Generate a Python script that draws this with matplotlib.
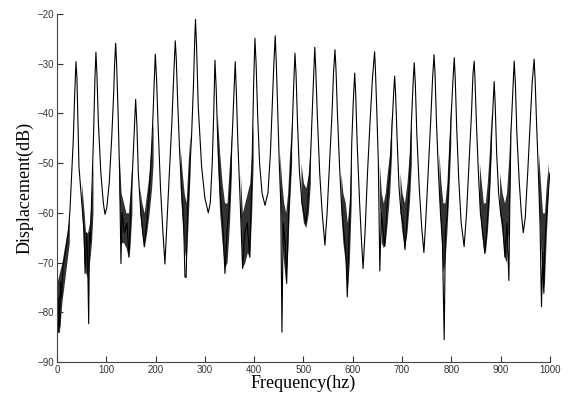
import numpy as np
import matplotlib
matplotlib.use("Agg")
import matplotlib.pyplot as plt

# %%
# main response curve (Hz, dB)
freq = [0, 1, 2.7, 4, 5.5, 7, 9, 12, 17, 23, 26.4, 30, 33, 36, 38.5, 40.5, 44.6, 48, 52, 55,
        57, 60, 62, 64.3, 66, 68, 70, 74, 77, 79, 81, 84, 89, 94, 97.4, 101, 106, 111, 115, 117,
        119, 121, 124, 127, 129.8, 132, 137, 142, 146, 150, 153, 157, 159.6, 162, 165, 170, 174, 177, 182, 187,
        192, 195, 197.5, 199.5, 202, 205, 210, 215, 219, 223, 228, 233, 237, 240, 242, 245, 249, 253, 257, 259.6,
        262, 265, 268, 273, 277, 279.5, 281, 283, 286.6, 293.4, 300, 307, 311, 315, 318, 320.5, 323, 326, 331, 336,
        340.8, 345, 350, 355, 359, 361.6, 364, 367, 371, 376.6, 381, 386, 391, 395, 399, 401.6, 404, 407, 411, 416,
        422, 428, 433, 437, 440, 442.8, 445, 448, 451, 454, 456.4, 459, 463, 466, 470, 474, 477, 480, 482.8, 485,
        488, 492, 497, 501, 505, 509, 514, 517, 521, 523, 525, 528, 533, 538, 543.6, 548, 553, 558, 561, 564,
        566, 569, 573, 577, 582, 586, 589, 592, 596, 598, 601, 604, 606, 609, 614, 618, 621, 625, 630, 635,
        640, 644.4, 646, 649, 652, 655, 658, 662, 665, 670, 675, 680, 683, 685, 687, 690, 694, 698, 702, 706,
        710, 715, 719, 722.5, 724.8, 727, 730, 735, 740, 744.4, 748, 753, 758, 762, 765, 767, 770, 774, 778, 782,
        785.6, 788, 792, 796, 800, 803, 806, 808, 811, 815, 820, 826, 831, 836, 841, 844, 846.5, 848, 851, 855,
        859, 864, 868, 873, 878, 882, 885, 887, 889, 892, 896, 900, 904, 908.7, 913, 916.8, 919, 921, 925, 927.6,
        930, 933, 938, 942, 946, 950, 955, 960, 964, 968, 970, 973, 976, 980, 983, 985.5, 987.8, 990, 995, 1000]
disp = [-76, -80, -84, -77, -83, -74, -77, -71, -68, -64, -59.4, -52, -45.4, -36, -29.6, -33, -50.7, -55, -60, -64,
        -72.2, -64, -68, -82.3, -64, -66, -58, -45, -33, -27.7, -32, -42, -52, -58, -60.3, -59, -54, -45, -36, -30,
        -25.9, -30, -40, -52, -70.2, -60, -64, -62, -68.9, -58, -52, -43, -37.2, -42, -52, -60, -64, -66.8, -62, -56,
        -47, -40, -33, -28.1, -33, -42, -55, -64, -70.3, -62, -52, -42, -32, -25.4, -29, -38, -48, -56, -62, -72.9,
        -73, -60, -54, -44.7, -34, -25, -21.1, -26, -38.6, -50.7, -57, -60, -58, -50, -40, -29.3, -35, -45, -56, -62,
        -72.2, -64, -58, -46, -36, -29.6, -36, -46, -56, -71.2, -64, -62, -68.9, -54, -34, -24.9, -30, -40, -50, -56,
        -58.5, -56, -48, -38, -30, -24.4, -30, -40, -50, -58, -84, -62, -66, -74.2, -60, -52, -44, -35, -27.9, -32,
        -42, -52, -58, -60, -62.1, -58, -50, -42, -32, -26.7, -31, -40, -52, -60, -66.5, -60, -50, -40, -32, -27.2,
        -31, -40, -50, -58, -64, -68, -76.9, -66, -56, -46, -38, -31.9, -36, -46, -58, -66, -71.2, -64, -52, -42,
        -33, -27.6, -31, -40, -50, -71.7, -60, -64, -66.8, -58, -52, -42, -36, -32.5, -36, -45, -55, -60, -62, -67.4,
        -62, -54, -42, -34, -29.8, -34, -44, -55, -63, -68, -62, -52, -42, -33, -28.2, -32, -42, -52, -60, -66,
        -85.5, -64, -60, -50, -40, -34, -28.8, -33, -43, -53, -62, -66.8, -60, -50, -40, -32, -29.5, -33, -42, -52,
        -60, -64, -68.2, -62, -54, -44, -38, -33.6, -38, -48, -56, -60, -62, -68.9, -62, -73.6, -56, -44, -35, -29.5,
        -34, -44, -54, -60, -64, -61, -52, -42, -34, -29.1, -33, -42, -50, -62, -78.9, -68, -76.2, -66, -58, -52]

# dense noisy parts of the troughs: envelope (low / high)
noise_freq = [[0, 5, 10, 15, 20, 25], [50, 55, 58, 62, 66, 70, 73], [126, 130, 135, 140, 145, 148, 152],
              [168, 172, 177, 182, 187, 192, 195], [250, 254, 258, 262, 266, 270],
              [325, 330, 335, 340, 345, 350, 354], [372, 376, 381, 386, 391, 395, 398],
              [452, 456, 460, 464, 468, 472, 476], [495, 500, 505, 510, 514],
              [576, 580, 585, 589, 593, 597], [654, 658, 662, 666, 670, 675, 679],
              [696, 700, 705, 710, 715, 719], [775, 779, 783, 787, 791, 795, 799],
              [857, 861, 865, 869, 873, 877, 881], [898, 903, 908, 912, 916, 920],
              [977, 981, 985, 989, 993, 997]]
noise_lo = [[-84, -84, -78, -74, -70, -66], [-58, -70, -72, -73, -70, -66, -60], [-56, -66, -66, -67, -69, -67, -60],
            [-60, -64, -67, -64, -60, -55, -50], [-55, -62, -67, -70, -62, -52],
            [-48, -60, -66, -71, -70, -62, -52], [-60, -71, -70, -68, -69, -60, -50],
            [-56, -66, -70, -74, -68, -58, -50], [-58, -62, -63, -60, -54],
            [-60, -66, -70, -76, -70, -58], [-58, -66, -67, -66, -62, -56, -48],
            [-60, -64, -67, -64, -58, -50], [-56, -64, -72, -70, -64, -56, -46],
            [-58, -64, -67, -68, -64, -58, -48], [-60, -64, -69, -70, -64, -52],
            [-56, -66, -76, -74, -64, -56]]
noise_hi = [[-74, -72, -70, -67, -64, -61], [-54, -60, -64, -64, -62, -56, -50], [-48, -56, -58, -60, -60, -56, -50],
            [-55, -58, -60, -56, -52, -45, -42], [-47, -52, -56, -58, -50, -44],
            [-40, -48, -54, -58, -58, -50, -44], [-52, -60, -58, -56, -54, -48, -42],
            [-48, -54, -58, -60, -56, -48, -42], [-50, -54, -55, -52, -46],
            [-52, -56, -58, -62, -58, -48], [-50, -56, -58, -56, -52, -48, -40],
            [-52, -56, -58, -54, -48, -40], [-48, -54, -58, -58, -54, -46, -38],
            [-50, -54, -58, -58, -54, -48, -40], [-52, -56, -58, -56, -50, -42],
            [-48, -54, -60, -60, -54, -50]]

x_ticks = [0, 100, 200, 300, 400, 500, 600, 700, 800, 900, 1000]
y_ticks = [-90, -80, -70, -60, -50, -40, -30, -20]

# %%
fig = plt.figure(figsize=(5.71, 3.98), dpi=100)
ax = fig.add_axes([0.0998, 0.0905, 0.8632, 0.8745])

ax.plot(freq, disp, color='black', linewidth=0.8)
for nf, lo, hi in zip(noise_freq, noise_lo, noise_hi):
    ax.fill_between(nf, lo, hi, color='black', linewidth=0, alpha=0.8)

ax.set_xlim(0, 1000)
ax.set_ylim(-90, -20)
ax.set_xticks(x_ticks)
ax.set_yticks(y_ticks)
ax.tick_params(direction='in', length=4, width=0.8, labelsize=7, colors='#333333', pad=2)
for lab in ax.get_xticklabels() + ax.get_yticklabels():
    lab.set_family('Liberation Sans')
ax.spines['top'].set_visible(False)
ax.spines['right'].set_visible(False)
ax.spines['left'].set_color('#444444')
ax.spines['bottom'].set_color('#444444')

ax.set_xlabel("Frequency(hz)", fontsize=13, family='Liberation Serif', labelpad=0)
ax.set_ylabel("Displacement(dB)", fontsize=13, family='Liberation Serif', labelpad=3)

fig.savefig("out.png", dpi=100)
